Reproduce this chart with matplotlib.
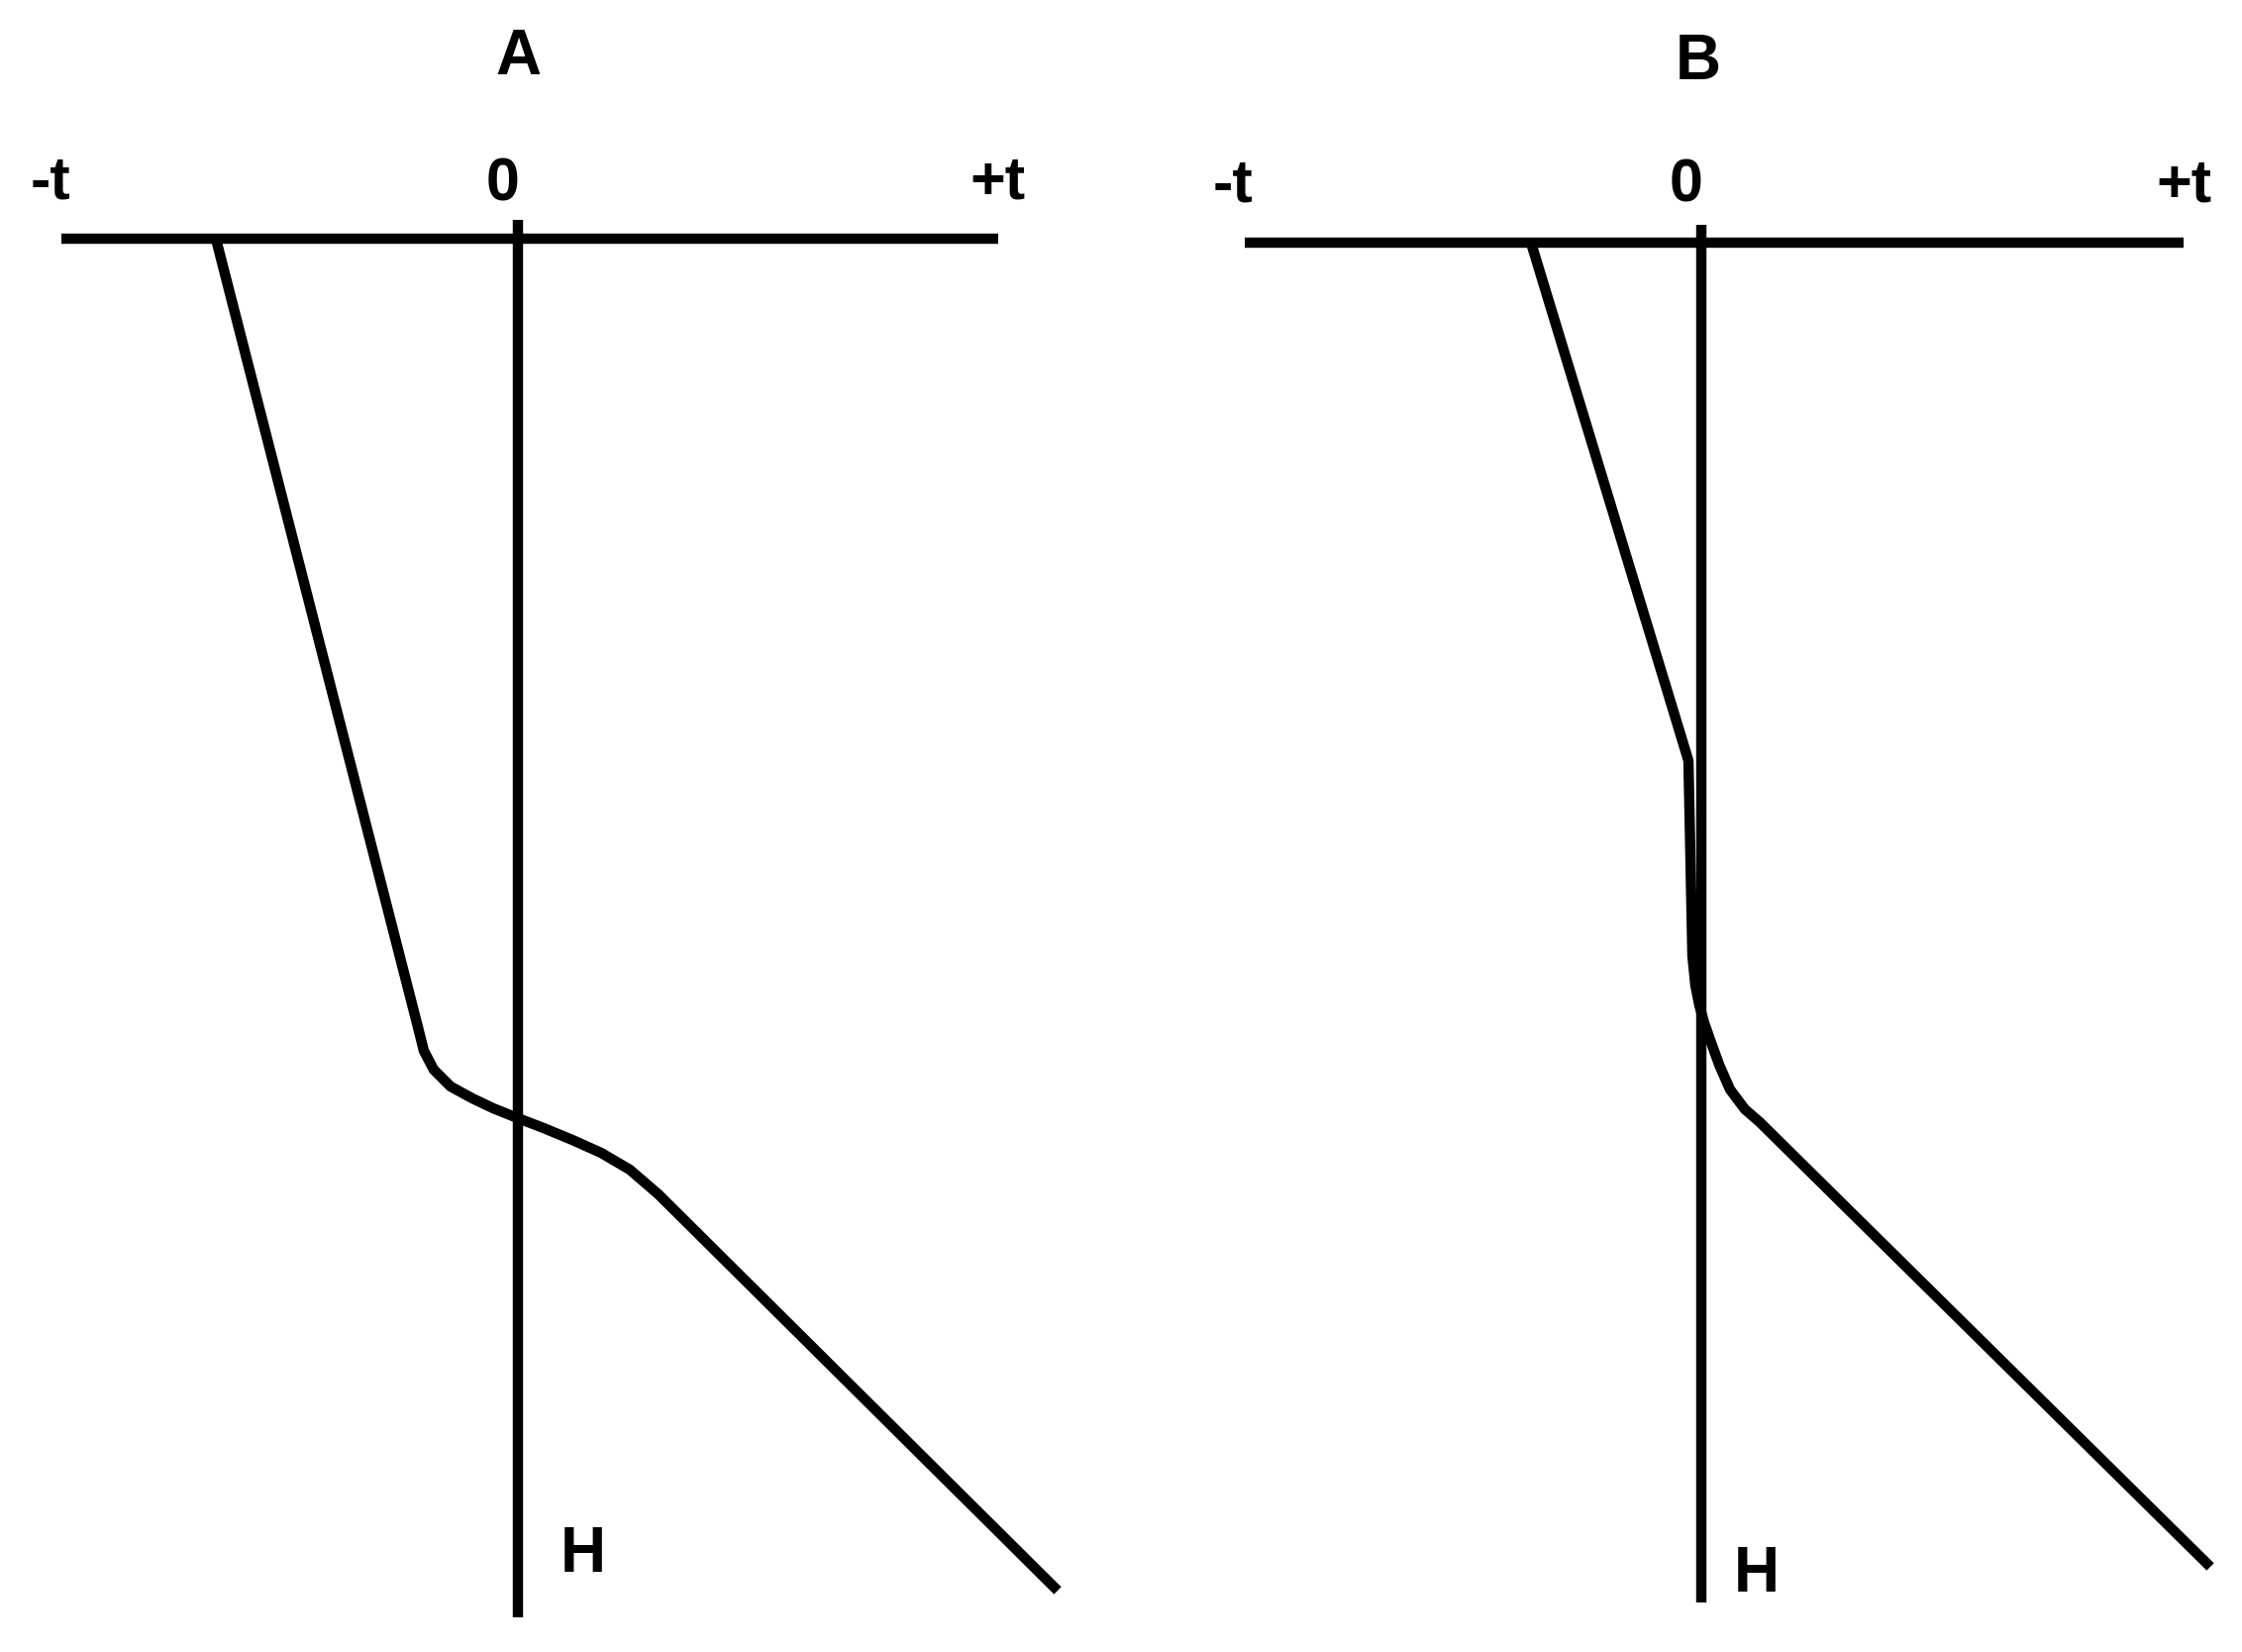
import matplotlib
matplotlib.use("Agg")
import matplotlib.pyplot as plt

# -------------------------
# Data (schematic units: t offset from zero line, depth below the t axis)
# -------------------------
panel_names = ["A", "B"]
t_labels = ["-t", "0", "+t"]
depth_label = "H"

# t axis extent and depth axis extent for each panel
A_t_axis = [-461, 485]
A_h_axis = [-19, 1392]
B_t_axis = [-461, 487]
B_h_axis = [-18, 1373]

# temperature profile, panel A
A_t = [-305, -101, -95, -85, -68, -46, -25, 0, 26, 55, 84, 113, 142, 545]
A_h = [0, 796, 820, 839, 856, 868, 878, 888, 898, 910, 923, 940, 965, 1365]

# temperature profile, panel B
B_t = [-172, -13, -11, -9, -6, -2, 3, 9, 18, 29, 44, 59, 514]
B_h = [0, 523, 620, 720, 750, 770, 788, 805, 830, 855, 875, 888, 1337]

LW = 7.5
FONT = ["Liberation Sans", "DejaVu Sans"]


def draw_panel(ax, origin, t_axis, h_axis, t, h, name, label_pos, h_pos):
    ox, oy = origin
    ax.set_xlim(-ox, 1132 - ox)
    ax.set_ylim(1668 - oy, -oy)
    ax.axis("off")

    ax.plot(t_axis, [0, 0], color="black", lw=LW, solid_capstyle="butt")
    ax.plot([0, 0], h_axis, color="black", lw=LW, solid_capstyle="butt")
    ax.plot(t, h, color="black", lw=LW, solid_capstyle="butt",
            solid_joinstyle="round")

    ax.text(label_pos["title"][0], label_pos["title"][1], name, ha="center",
            va="baseline", fontsize=46, fontweight="bold", family=FONT)
    for lab, (x, y) in zip(t_labels, label_pos["ticks"]):
        ax.text(x, y, lab, ha="center", va="baseline", fontsize=44,
                fontweight="bold", family=FONT)
    ax.text(h_pos[0], h_pos[1], depth_label, ha="center", va="baseline",
            fontsize=46, fontweight="bold", family=FONT)


fig = plt.figure(figsize=(22.64, 16.68), dpi=100)
axA = fig.add_axes([0, 0, 0.5, 1])
axB = fig.add_axes([0.5, 0, 0.5, 1])

draw_panel(axA, (523, 241), A_t_axis, A_h_axis, A_t, A_h, panel_names[0],
           {"title": (0, -166), "ticks": [(-472, -41), (-15, -39), (484, -41)]},
           (66, 1346))
draw_panel(axB, (1718 - 1132, 245), B_t_axis, B_h_axis, B_t, B_h, panel_names[1],
           {"title": (-3, -165), "ticks": [(-473, -42), (-15, -42), (487, -42)]},
           (56, 1362))

fig.savefig("out.png", dpi=100, facecolor="white")
